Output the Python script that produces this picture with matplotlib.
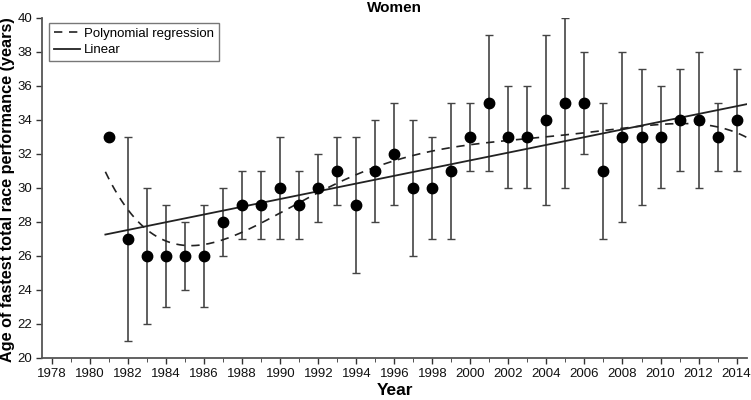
import numpy as np
import matplotlib
matplotlib.use("Agg")
import matplotlib.pyplot as plt

plt.rcParams['font.family'] = ['Liberation Sans', 'DejaVu Sans']

years = np.arange(1981, 2015)
age = np.array([33, 27, 26, 26, 26, 26, 28, 29, 29, 30, 29, 30, 31, 29, 31, 32, 30,
                30, 31, 33, 35, 33, 33, 34, 35, 35, 31, 33, 33, 33, 34, 34, 33, 34])
low = np.array([33, 21, 22, 23, 24, 23, 26, 27, 27, 27, 27, 28, 29, 25, 28, 29, 26,
                27, 27, 31, 31, 30, 30, 29, 30, 32, 27, 28, 29, 30, 31, 30, 31, 31])
high = np.array([33, 33, 30, 29, 28, 29, 30, 31, 31, 33, 31, 32, 33, 33, 34, 35, 34,
                 33, 35, 35, 39, 36, 36, 39, 40, 38, 35, 38, 37, 36, 37, 38, 35, 37])

fig = plt.figure(figsize=(7.51, 4.0), dpi=100)
ax = fig.add_axes([0.056, 0.105, 0.9387, 0.85])

# error bars (1981 has none)
yerr = np.vstack([age - low, high - age])
ax.errorbar(years[1:], age[1:], yerr=yerr[:, 1:], fmt='none', ecolor='#444444',
            elinewidth=1.2, capsize=3, capthick=1)
ax.plot(years, age, 'o', color='black', markersize=7.5, zorder=5)

# fits
xf = np.linspace(1980.8, 2014.55, 200)
t0 = 1997.5
p_lin = np.polyfit(years - t0, age, 1)
p_poly = np.polyfit(years - t0, age, 5)
ax.plot(xf, np.polyval(p_poly, xf - t0), '--', color='#222222', lw=1.2,
        dashes=(5, 4), label='Polynomial regression')
ax.plot(xf, np.polyval(p_lin, xf - t0), '-', color='#222222', lw=1.3, label='Linear')

ax.set_xlim(1977.47, 2014.55)
ax.set_ylim(20, 40)
ax.set_xticks(np.arange(1978, 2015, 2))
ax.set_xticks(np.arange(1979, 2015, 2), minor=True)
ax.set_yticks(np.arange(20, 41, 2))
ax.tick_params(axis='both', labelsize=9.5, colors='#333333', length=4, width=1,
               labelcolor='#111111', pad=3)
ax.tick_params(axis='x', which='minor', length=3, colors='#333333')
for s in ['top', 'right']:
    ax.spines[s].set_visible(False)
for s in ['left', 'bottom']:
    ax.spines[s].set_color('#555555')
    ax.spines[s].set_linewidth(1.3)

ax.set_title('Women', fontsize=11, fontweight='bold', y=1.028, va='center', pad=0)
ax.set_xlabel('Year', fontsize=12.5, fontweight='bold')
ax.xaxis.set_label_coords(0.5, -0.097)
ax.xaxis.label.set_va('center')
ax.set_ylabel('Age of fastest total race performance (years)', fontsize=11.7,
              fontweight='bold')
ax.yaxis.set_label_coords(-0.049, 0.495)
ax.yaxis.label.set_va('center')

leg = ax.legend(loc='upper left', fontsize=9.5, frameon=True, fancybox=False,
                borderpad=0.35, labelspacing=0.3, handlelength=2.0,
                handletextpad=0.3, borderaxespad=0,
                bbox_to_anchor=(0.01, 0.985))
leg.get_frame().set_edgecolor('#555555')
leg.get_frame().set_linewidth(1)

fig.savefig('out.png', dpi=100)
